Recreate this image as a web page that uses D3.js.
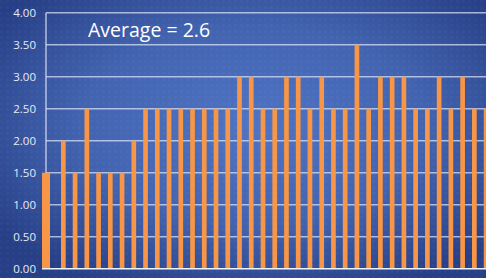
<!DOCTYPE html>
<html>
<head>
<meta charset="utf-8">
<script src="https://cdn.jsdelivr.net/npm/d3@7"></script>
<style>
  html, body { margin: 0; padding: 0; background: #2b4690; }
  svg { display: block; }
</style>
</head>
<body>
<div id="chart"></div>
<script>
// bar chart with an average label

const values = [1.5, 2.0, 1.5, 2.5, 1.5, 1.5, 1.5, 2.0, 2.5, 2.5,
                2.5, 2.5, 2.5, 2.5, 2.5, 2.5, 3.0, 3.0, 2.5, 2.5,
                3.0, 3.0, 2.5, 3.0, 2.5, 2.5, 3.5, 2.5, 3.0, 3.0,
                3.0, 2.5, 2.5, 3.0, 2.5, 3.0, 2.5, 2.5];
const yTicks = [0, 0.5, 1, 1.5, 2, 2.5, 3, 3.5, 4];
const averageLabel = 'Average = 2.6';

const width = 486;
const height = 278;
const margin = { top: 12.7, right: 0, bottom: 9.3, left: 46 };

const svg = d3.select('#chart')
  .append('svg')
  .attr('width', width)
  .attr('height', height);

// background: blue, lighter in the middle
const defs = svg.append('defs');
const grad = defs.append('radialGradient')
  .attr('id', 'bg')
  .attr('cx', '52%').attr('cy', '45%').attr('r', '65%');
grad.append('stop').attr('offset', '0%').attr('stop-color', '#4f74c4');
grad.append('stop').attr('offset', '55%').attr('stop-color', '#4263b0');
grad.append('stop').attr('offset', '100%').attr('stop-color', '#263f86');

const pat = defs.append('pattern')
  .attr('id', 'tex')
  .attr('width', 6).attr('height', 6)
  .attr('patternUnits', 'userSpaceOnUse');
pat.append('rect').attr('width', 3).attr('height', 3).attr('fill', 'rgba(255,255,255,0.025)');

svg.append('rect').attr('width', width).attr('height', height).attr('fill', 'url(#bg)');
svg.append('rect').attr('width', width).attr('height', height).attr('fill', 'url(#tex)');

const y = d3.scaleLinear()
  .domain([0, 4])
  .range([height - margin.bottom, margin.top]);

// one band per bar after the first; the first bar sits on the left frame line
const step = 11.743;
const x = d3.scaleBand()
  .domain(d3.range(values.length))
  .range([margin.left + 15 - step, margin.left + 15 - step + step * (values.length - 0.6)])
  .paddingInner(0.6)
  .paddingOuter(0);

// gridlines
svg.append('g')
  .selectAll('line')
  .data(yTicks.filter(d => d > 0))
  .enter().append('line')
  .attr('x1', margin.left)
  .attr('x2', width)
  .attr('y1', d => y(d))
  .attr('y2', d => y(d))
  .attr('stroke', 'rgba(230,236,252,0.68)')
  .attr('stroke-width', 1.6);

// left frame line
svg.append('line')
  .attr('x1', margin.left).attr('x2', margin.left)
  .attr('y1', y(4)).attr('y2', y(0))
  .attr('stroke', 'rgba(230,236,252,0.68)')
  .attr('stroke-width', 1.6);

// bars
svg.append('g')
  .selectAll('rect')
  .data(values)
  .enter().append('rect')
  .attr('x', (d, i) => i === 0 ? margin.left - 4 : x(i))
  .attr('width', (d, i) => i === 0 ? 8 : x.bandwidth())
  .attr('y', d => y(d))
  .attr('height', d => y(0) - y(d))
  .attr('fill', '#f79646');

// baseline
svg.append('line')
  .attr('x1', margin.left - 4).attr('x2', width)
  .attr('y1', y(0)).attr('y2', y(0))
  .attr('stroke', '#eef2fb')
  .attr('stroke-width', 1.6);

// y labels
svg.append('g')
  .selectAll('text')
  .data(yTicks)
  .enter().append('text')
  .attr('x', 36)
  .attr('y', d => y(d))
  .attr('dy', '0.35em')
  .attr('text-anchor', 'end')
  .attr('font-family', '"Open Sans", sans-serif')
  .attr('font-size', 11.5)
  .attr('fill', '#e6ebf7')
  .text(d => d3.format('.2f')(d));

// average text
svg.append('text')
  .attr('x', 88)
  .attr('y', 37)
  .attr('font-family', '"Open Sans", sans-serif')
  .attr('font-size', 19.5)
  .attr('fill', '#ffffff')
  .text(averageLabel);
</script>
</body>
</html>
